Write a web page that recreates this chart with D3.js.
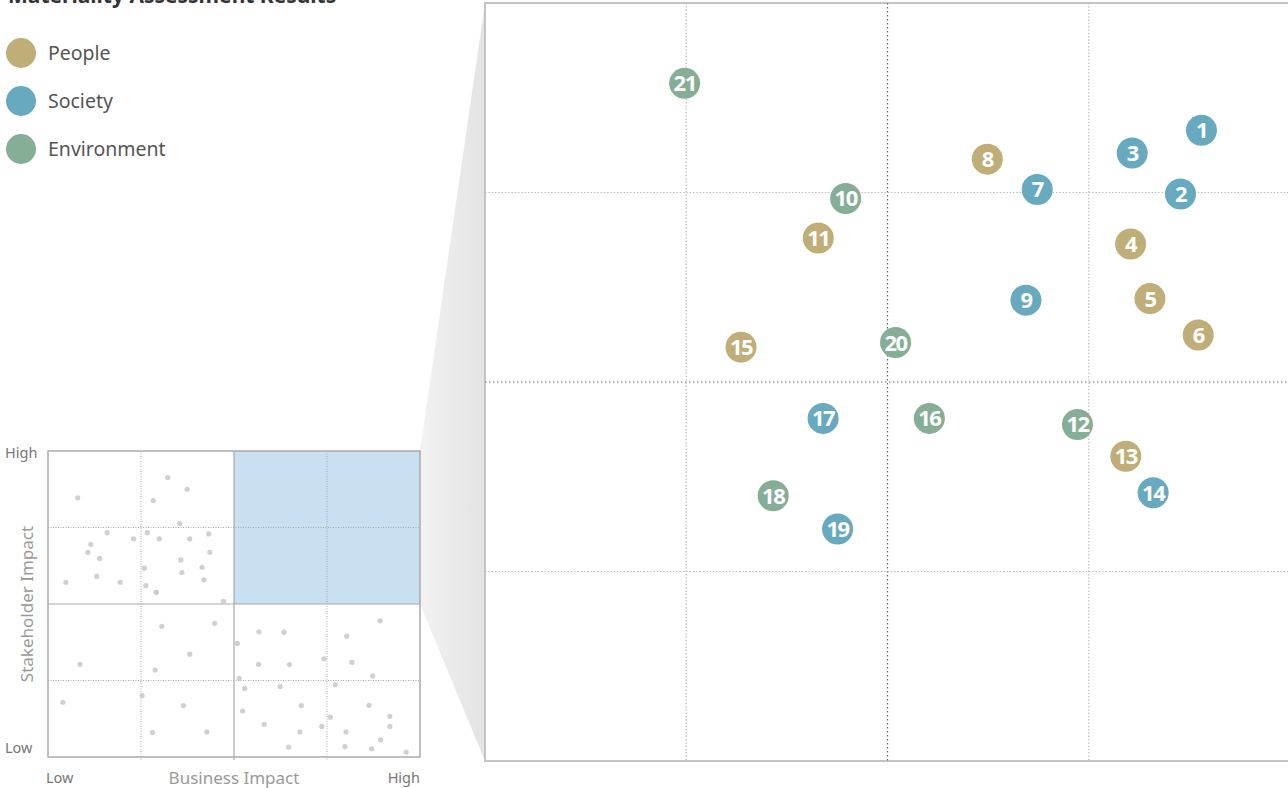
<!DOCTYPE html>
<html>
<head>
<meta charset="utf-8">
<script src="https://cdn.jsdelivr.net/npm/d3@7"></script>
<style>
  body { margin: 0; background: #fff; }
  svg { display: block; font-family: "Noto Sans", sans-serif; }
</style>
</head>
<body>
<svg id="chart" width="1288" height="788"></svg>
<script>
// --- data ---
const groups      = ["People", "Society", "Environment"];
const groupColors = ["#bfae78", "#67a9be", "#86ae96"];

// material issues (big panel = top-right quadrant of the matrix, 50..100)
const issueIds         = [1, 2, 3, 4, 5, 6, 7, 8, 9, 10, 11, 12, 13, 14, 15, 16, 17, 18, 19, 20, 21];
const issueGroup       = ["Society", "Society", "Society", "People", "People", "People", "Society", "People", "Society", "Environment",
                          "People", "Environment", "People", "Society", "People", "Environment", "Society", "Environment", "Society", "Environment", "Environment"];
const issueBusiness    = [94.5, 93.2, 90.2, 90.1, 91.3, 94.3, 84.3, 81.2, 83.6, 72.4, 70.7, 86.8, 89.8, 91.5, 65.9, 77.6, 71.0, 67.9, 71.9, 75.5, 62.4];
const issueStakeholder = [91.6, 87.4, 90.1, 84.1, 80.5, 78.1, 87.7, 89.7, 80.4, 87.1, 84.5, 72.2, 70.1, 67.7, 77.3, 72.6, 72.6, 67.5, 65.3, 77.6, 94.7];

// grey issues in the small overview matrix (0..100 on both axes)
const dotBusiness = [
  8.0, 32.2, 37.4, 28.3, 35.4, 15.9, 26.7, 23.0, 29.9, 38.1, 43.2, 11.5, 10.7, 13.9, 35.7, 43.5, 25.9, 41.4, 36.0,
  4.8, 13.1, 19.4, 26.3, 41.9, 29.1, 29.1, 47.2,
  30.6, 44.8, 38.1, 8.6, 28.8, 4.0, 25.3, 36.4, 28.1, 42.7,
  89.3, 56.7, 63.4, 50.9, 80.3, 56.6, 64.9, 74.2, 81.7, 87.3, 51.4, 52.9, 62.4, 77.2, 68.1, 86.3, 52.3, 75.9,
  91.9, 58.1, 73.6, 91.9, 67.7, 80.1, 89.4, 64.7, 79.8, 87.0, 96.3
];
const dotStakeholder = [
  84.7, 91.3, 87.5, 83.8, 76.3, 73.3, 73.3, 71.3, 71.3, 71.3, 72.9, 69.5, 66.9, 64.9, 64.4, 66.9, 61.7, 62.0, 60.3,
  57.1, 59.0, 57.1, 56.0, 57.9, 53.8, 53.8, 50.9,
  42.7, 43.7, 33.6, 30.3, 28.4, 17.9, 20.1, 16.8, 8.0, 8.2,
  44.5, 40.9, 40.8, 37.1, 39.5, 30.3, 30.2, 32.1, 30.9, 26.5, 25.7, 22.4, 23.0, 23.6, 16.8, 16.9, 15.0, 13.0,
  13.3, 10.7, 10.0, 10.0, 8.2, 8.2, 5.6, 3.2, 3.4, 2.7, 1.6
];

const title = "Materiality Assessment Results";
const axisLowHigh = ["Low", "High"];

// --- setup ---
const svg = d3.select("#chart");
const color = d3.scaleOrdinal().domain(groups).range(groupColors);

// small matrix scales
const sx = d3.scaleLinear().domain([0, 100]).range([48, 420]);
const sy = d3.scaleLinear().domain([0, 100]).range([757, 451]);

// big panel scales (zoom into the top-right quadrant)
const bx = d3.scaleLinear().domain([50, 100]).range([485, 1290]);
const by = d3.scaleLinear().domain([50, 100]).range([761, 3]);

// connector shape between small quadrant and big panel
const defs = svg.append("defs");
const grad = defs.append("linearGradient").attr("id", "zoomGrad")
  .attr("x1", "0%").attr("x2", "100%").attr("y1", "0%").attr("y2", "0%");
grad.append("stop").attr("offset", "0%").attr("stop-color", "#f2f2f2");
grad.append("stop").attr("offset", "100%").attr("stop-color", "#e3e3e3");

svg.append("polygon")
  .attr("points", [
    [sx(100), sy(100)], [bx(50), by(100)], [bx(50), by(50)], [sx(100), sy(50)]
  ].map(p => p.join(",")).join(" "))
  .attr("fill", "url(#zoomGrad)");

// --- big panel ---
const big = svg.append("g");
big.append("rect")
  .attr("x", bx(50)).attr("y", by(100))
  .attr("width", bx(100) - bx(50)).attr("height", by(50) - by(100))
  .attr("fill", "#fff")
  .attr("stroke", "#c4c4c4").attr("stroke-width", 2);

const bigGrid = [62.5, 75, 87.5];
big.selectAll("line.vgrid").data(bigGrid).join("line")
  .attr("class", "vgrid")
  .attr("x1", d => bx(d)).attr("x2", d => bx(d))
  .attr("y1", by(100)).attr("y2", by(50))
  .attr("stroke", d => d === 75 ? "#666" : "#bdbdbd")
  .attr("stroke-width", 1.2)
  .attr("stroke-dasharray", d => d === 75 ? "1.5,2.5" : "1.5,1.8");
big.selectAll("line.hgrid").data(bigGrid).join("line")
  .attr("class", "hgrid")
  .attr("y1", d => by(d)).attr("y2", d => by(d))
  .attr("x1", bx(50)).attr("x2", bx(100))
  .attr("stroke", d => d === 75 ? "#666" : "#bdbdbd")
  .attr("stroke-width", 1.2)
  .attr("stroke-dasharray", d => d === 75 ? "1.5,2.5" : "1.5,1.8");

const issues = issueIds.map((id, i) => ({
  id, group: issueGroup[i], x: issueBusiness[i], y: issueStakeholder[i]
}));

const marks = big.selectAll("g.issue").data(issues).join("g")
  .attr("class", "issue")
  .attr("transform", d => `translate(${bx(d.x)},${by(d.y)})`);
marks.append("circle")
  .attr("r", 15.5)
  .attr("fill", d => color(d.group));
marks.append("text")
  .attr("text-anchor", "middle")
  .attr("dy", "0.36em")
  .attr("fill", "#fff")
  .attr("font-weight", "bold")
  .attr("font-size", 22)
  .attr("letter-spacing", -1.5)
  .text(d => d.id);

// --- small matrix ---
const small = svg.append("g");
small.append("rect")
  .attr("x", sx(50)).attr("y", sy(100))
  .attr("width", sx(100) - sx(50)).attr("height", sy(50) - sy(100))
  .attr("fill", "#c9dff2");

small.selectAll("line.sv").data([25, 75]).join("line")
  .attr("class", "sv")
  .attr("x1", d => sx(d)).attr("x2", d => sx(d))
  .attr("y1", sy(100)).attr("y2", sy(0) + 4)
  .attr("stroke", "#aaa").attr("stroke-dasharray", "1,1.5");
small.selectAll("line.sh").data([25, 75]).join("line")
  .attr("class", "sh")
  .attr("y1", d => sy(d)).attr("y2", d => sy(d))
  .attr("x1", sx(0)).attr("x2", sx(100))
  .attr("stroke", "#aaa").attr("stroke-dasharray", "1,1.5");

small.append("line")
  .attr("x1", sx(50)).attr("x2", sx(50)).attr("y1", sy(100)).attr("y2", sy(0) + 3)
  .attr("stroke", "#aaa").attr("stroke-width", 1.2);
small.append("line")
  .attr("x1", sx(0)).attr("x2", sx(100)).attr("y1", sy(50)).attr("y2", sy(50))
  .attr("stroke", "#aaa").attr("stroke-width", 1.2);
small.append("rect")
  .attr("x", sx(0)).attr("y", sy(100))
  .attr("width", sx(100) - sx(0)).attr("height", sy(0) - sy(100))
  .attr("fill", "none").attr("stroke", "#aaa").attr("stroke-width", 1.5);

const dots = dotBusiness.map((x, i) => ({ x, y: dotStakeholder[i] }));
small.selectAll("circle.dot").data(dots).join("circle")
  .attr("class", "dot")
  .attr("cx", d => sx(d.x)).attr("cy", d => sy(d.y))
  .attr("r", 2.6)
  .attr("fill", "#c8c8c8")
  .attr("fill-opacity", 0.85);

// axis labels of the small matrix
small.append("text").attr("x", 5).attr("y", sy(100) + 7)
  .attr("font-size", 14.5).attr("fill", "#777").text(axisLowHigh[1]);
small.append("text").attr("x", 5).attr("y", sy(0) - 4)
  .attr("font-size", 14.5).attr("fill", "#777").text(axisLowHigh[0]);
small.append("text").attr("x", sx(0) - 2).attr("y", 783)
  .attr("font-size", 14.5).attr("fill", "#777").text(axisLowHigh[0]);
small.append("text").attr("x", sx(100)).attr("y", 783).attr("text-anchor", "end")
  .attr("font-size", 14.5).attr("fill", "#777").text(axisLowHigh[1]);
small.append("text").attr("x", sx(50)).attr("y", 784).attr("text-anchor", "middle")
  .attr("font-size", 17).attr("fill", "#9a9a9a").text("Business Impact");
small.append("text")
  .attr("transform", `translate(33, ${sy(50)}) rotate(-90)`)
  .attr("text-anchor", "middle")
  .attr("font-size", 17).attr("fill", "#9a9a9a").text("Stakeholder Impact");

// --- title + legend ---
svg.append("text")
  .attr("x", 8).attr("y", 3)
  .attr("font-size", 21).attr("font-weight", "bold").attr("fill", "#333")
  .text(title);

const legend = svg.selectAll("g.legend").data(groups).join("g")
  .attr("class", "legend")
  .attr("transform", (d, i) => `translate(21, ${53 + i * 48})`);
legend.append("circle").attr("r", 15).attr("fill", d => color(d));
legend.append("text")
  .attr("x", 27).attr("dy", "0.35em")
  .attr("font-size", 19.5).attr("fill", "#555")
  .text(d => d);
</script>
</body>
</html>
